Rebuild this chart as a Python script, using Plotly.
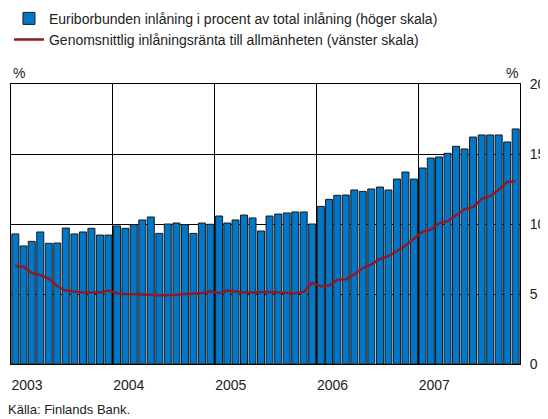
import pandas as pd
import plotly.graph_objects as go

# monthly, Jan 2003 - Dec 2007
months = pd.date_range("2003-01-01", "2007-12-01", freq="MS").strftime("%Y-%m-%d").tolist()

# Euriborbunden inlåning, % av total inlåning (höger skala)
euribor_share = [
    9.29, 8.43, 8.76, 9.43, 8.62, 8.64, 9.71, 9.29, 9.43, 9.69, 9.21, 9.21,
    9.86, 9.69, 9.95, 10.29, 10.50, 9.33, 10.00, 10.07, 9.95, 9.33, 10.07, 9.98,
    10.57, 10.07, 10.29, 10.64, 10.43, 9.50, 10.57, 10.71, 10.79, 10.86, 10.86, 10.00,
    11.26, 11.76, 12.05, 12.07, 12.43, 12.33, 12.50, 12.64, 12.43, 13.21, 13.71, 13.21,
    14.00, 14.71, 14.79, 15.05, 15.55, 15.36, 16.21, 16.36, 16.36, 16.36, 15.86, 16.79,
]

# Genomsnittlig inlåningsränta (vänster skala, 0-4 %)
deposit_rate = [
    1.40, 1.39, 1.30, 1.27, 1.22, 1.11, 1.05, 1.03, 1.02, 1.02, 1.02, 1.05,
    1.01, 1.00, 1.00, 0.99, 0.99, 0.98, 0.98, 0.99, 1.00, 1.00, 1.01, 1.04,
    1.01, 1.05, 1.03, 1.02, 1.02, 1.03, 1.03, 1.02, 1.01, 1.01, 1.03, 1.16,
    1.11, 1.12, 1.20, 1.21, 1.28, 1.37, 1.42, 1.50, 1.54, 1.62, 1.69, 1.79,
    1.89, 1.92, 2.01, 2.04, 2.12, 2.21, 2.24, 2.36, 2.40, 2.49, 2.60, 2.61,
]

year_ticks = ["2003-01-01", "2004-01-01", "2005-01-01", "2006-01-01", "2007-01-01"]
year_labels = ["2003", "2004", "2005", "2006", "2007"]

font = "Liberation Sans, Arial, sans-serif"

fig = go.Figure()
fig.add_trace(go.Bar(
    x=months, y=euribor_share,
    xperiod="M1", xperiodalignment="middle",
    name="Euriborbunden inlåning i procent av total inlåning (höger skala)",
    marker=dict(color="#0077C8", line=dict(color="#1a1a1a", width=1)),
    yaxis="y",
))
fig.add_trace(go.Scatter(
    x=months, y=deposit_rate,
    xperiod="M1", xperiodalignment="middle",
    mode="lines",
    name="Genomsnittlig inlåningsränta till allmänheten (vänster skala)",
    line=dict(color="#8C1A2A", width=2.5),
    yaxis="y2",
))

# page body has an 8px margin, so the figure is 8px smaller and shifted
fig.update_layout(
    width=540, height=411,
    margin=dict(l=3, r=28, t=76, b=55, autoexpand=False),
    paper_bgcolor="white", plot_bgcolor="white",
    font=dict(family=font, size=14, color="#222"),
    bargap=0.15,
    showlegend=True,
    legend=dict(
        x=-0.004, y=1.29, xanchor="left", yanchor="top",
        font=dict(size=14), itemwidth=30, tracegroupgap=0,
        bgcolor="rgba(0,0,0,0)",
    ),
    xaxis=dict(
        type="date", range=["2003-01-01", "2008-01-01"],
        tickvals=year_ticks, ticktext=year_labels,
        ticks="", showgrid=True, gridcolor="black", gridwidth=1,
        showline=True, linecolor="black", linewidth=1, mirror=True,
        ticklabelshift=16, ticklabelstandoff=8, tickangle=0,
        tickfont=dict(size=14),
    ),
    yaxis=dict(
        side="right", range=[0, 20], dtick=5,
        showgrid=True, gridcolor="black", gridwidth=1,
        showline=True, linecolor="black", linewidth=1, mirror=True,
        zeroline=False, ticks="", ticklabelstandoff=6,
        tickfont=dict(size=14),
    ),
    yaxis2=dict(
        overlaying="y", side="left", range=[0, 4],
        showgrid=False, showticklabels=False, zeroline=False,
    ),
    annotations=[
        dict(text="%", xref="paper", yref="paper", x=0, y=1, yshift=1,
             xanchor="left", yanchor="bottom", showarrow=False, font=dict(size=14)),
        dict(text="%", xref="paper", yref="paper", x=1, y=1, yshift=1,
             xanchor="right", yanchor="bottom", showarrow=False, font=dict(size=14)),
        dict(text="Källa: Finlands Bank.", xref="paper", yref="paper",
             x=-0.01, y=-0.197, xanchor="left", yanchor="bottom",
             showarrow=False, font=dict(size=13)),
    ],
)

fig.write_html("out.html")
